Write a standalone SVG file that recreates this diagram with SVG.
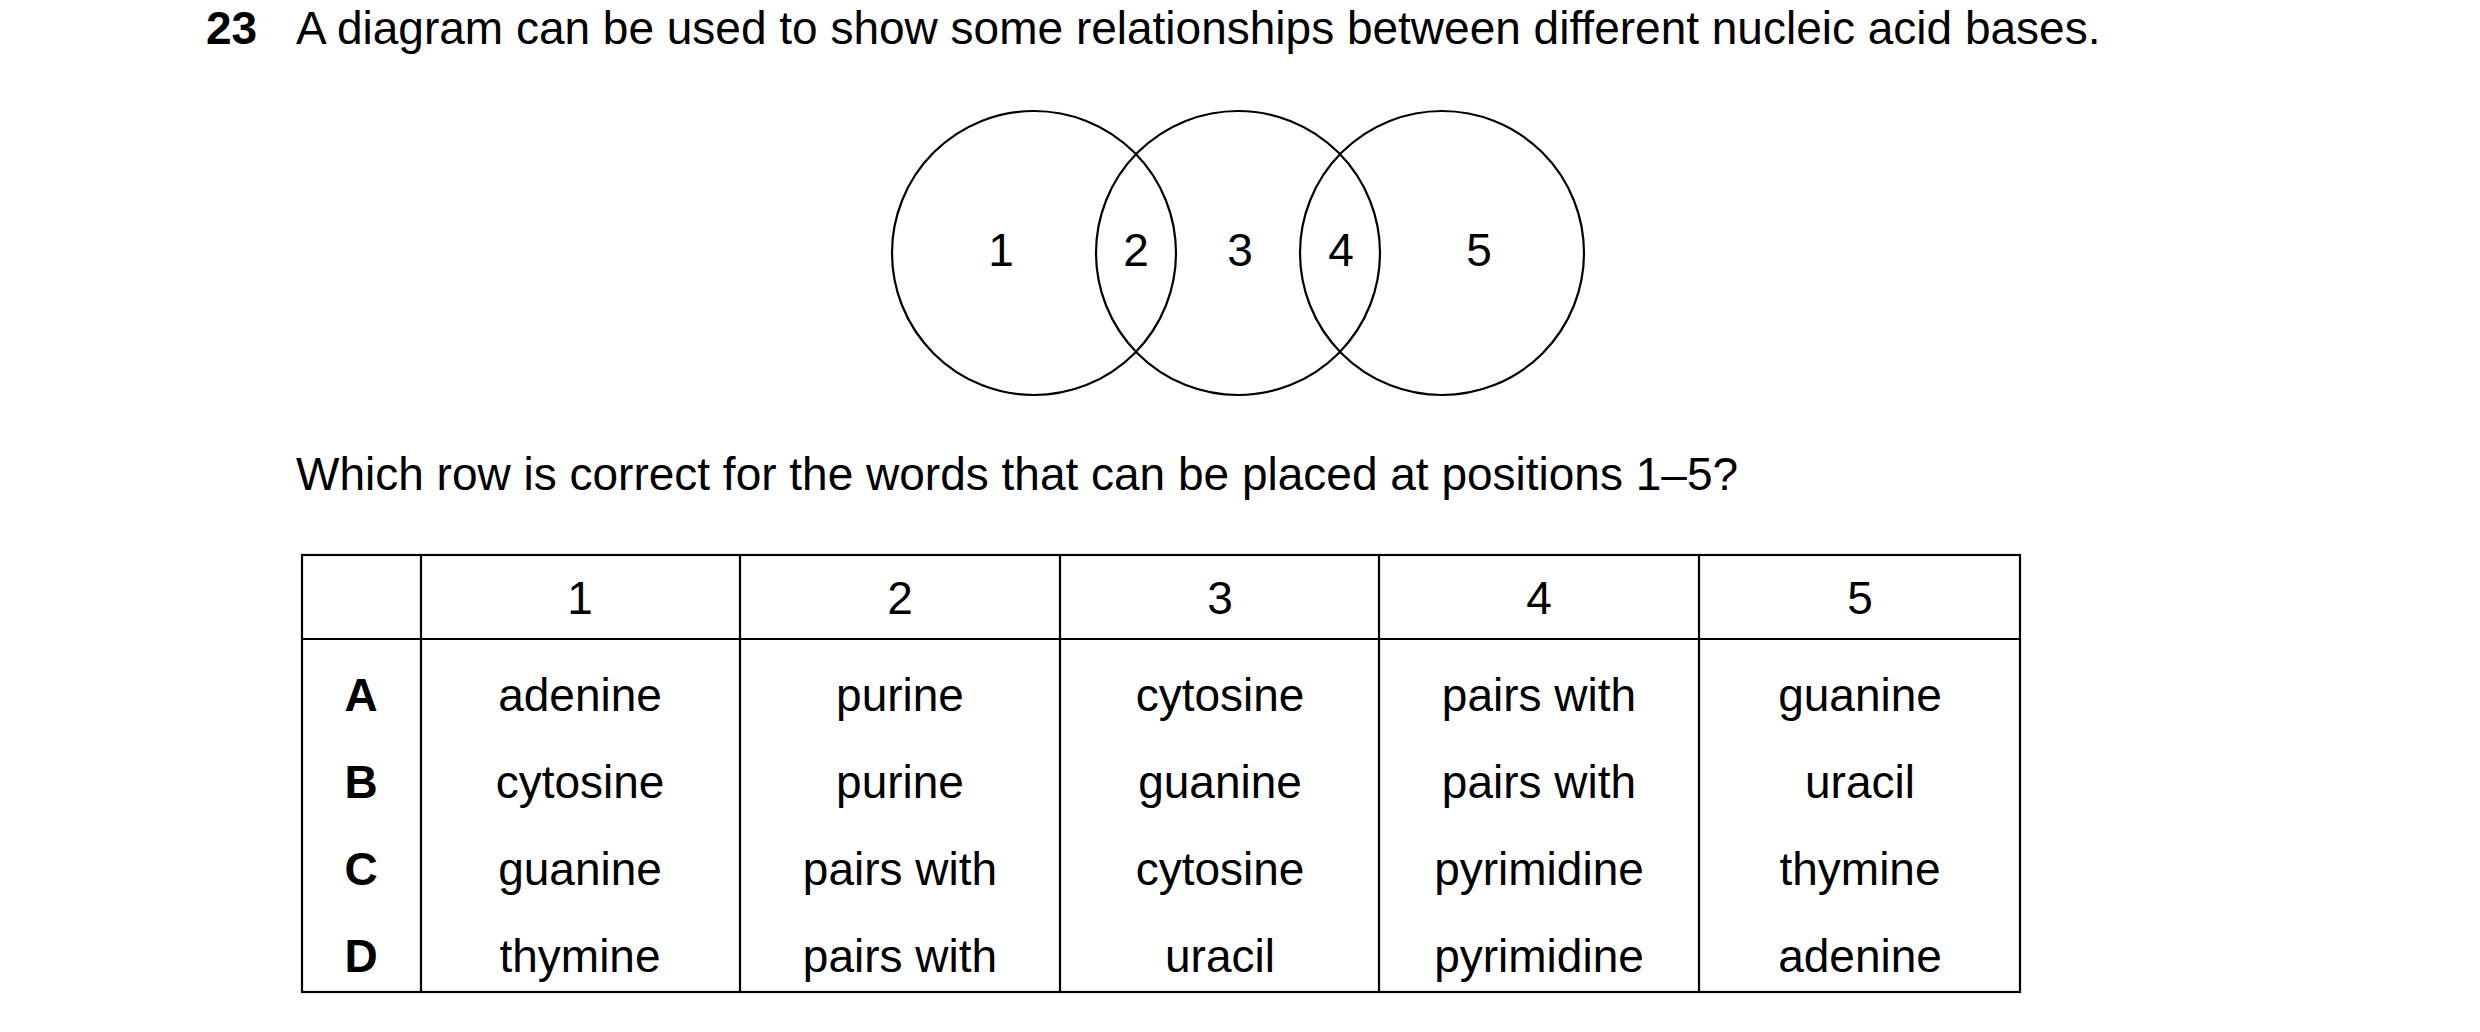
<svg xmlns="http://www.w3.org/2000/svg" width="2480" height="1032" viewBox="0 0 2480 1032">
<style>
text{font-family:"Liberation Sans",Arial,sans-serif;font-size:46px;fill:#000}
.c{text-anchor:middle}
.b{font-weight:bold}
.l{fill:none;stroke:#000;stroke-width:2.2}
</style>
<rect width="2480" height="1032" fill="#fff"/>
<text x="206" y="44" class="b">23</text>
<text x="296" y="44">A diagram can be used to show some relationships between different nucleic acid bases.</text>
<g id="venn">
<circle class="l" cx="1034" cy="253" r="142"/>
<circle class="l" cx="1238" cy="253" r="142"/>
<circle class="l" cx="1442" cy="253" r="142"/>
<text class="c" x="1001" y="266">1</text>
<text class="c" x="1136" y="266">2</text>
<text class="c" x="1240" y="266">3</text>
<text class="c" x="1341" y="266">4</text>
<text class="c" x="1479" y="266">5</text>
</g>
<text x="296" y="490">Which row is correct for the words that can be placed at positions 1–5?</text>
<g id="table">
<rect class="l" x="302" y="555" width="1718" height="437"/>
<line class="l" x1="302" y1="639" x2="2020" y2="639"/>
<line class="l" x1="421" y1="555" x2="421" y2="992"/>
<line class="l" x1="740" y1="555" x2="740" y2="992"/>
<line class="l" x1="1060" y1="555" x2="1060" y2="992"/>
<line class="l" x1="1379" y1="555" x2="1379" y2="992"/>
<line class="l" x1="1699" y1="555" x2="1699" y2="992"/>
<text class="c" x="580" y="614">1</text><text class="c" x="900" y="614">2</text><text class="c" x="1220" y="614">3</text><text class="c" x="1539" y="614">4</text><text class="c" x="1860" y="614">5</text>
<text class="c b" x="361" y="711">A</text><text class="c" x="580" y="711">adenine</text><text class="c" x="900" y="711">purine</text><text class="c" x="1220" y="711">cytosine</text><text class="c" x="1539" y="711">pairs with</text><text class="c" x="1860" y="711">guanine</text>
<text class="c b" x="361" y="798">B</text><text class="c" x="580" y="798">cytosine</text><text class="c" x="900" y="798">purine</text><text class="c" x="1220" y="798">guanine</text><text class="c" x="1539" y="798">pairs with</text><text class="c" x="1860" y="798">uracil</text>
<text class="c b" x="361" y="885">C</text><text class="c" x="580" y="885">guanine</text><text class="c" x="900" y="885">pairs with</text><text class="c" x="1220" y="885">cytosine</text><text class="c" x="1539" y="885">pyrimidine</text><text class="c" x="1860" y="885">thymine</text>
<text class="c b" x="361" y="972">D</text><text class="c" x="580" y="972">thymine</text><text class="c" x="900" y="972">pairs with</text><text class="c" x="1220" y="972">uracil</text><text class="c" x="1539" y="972">pyrimidine</text><text class="c" x="1860" y="972">adenine</text>
</g>
</svg>
